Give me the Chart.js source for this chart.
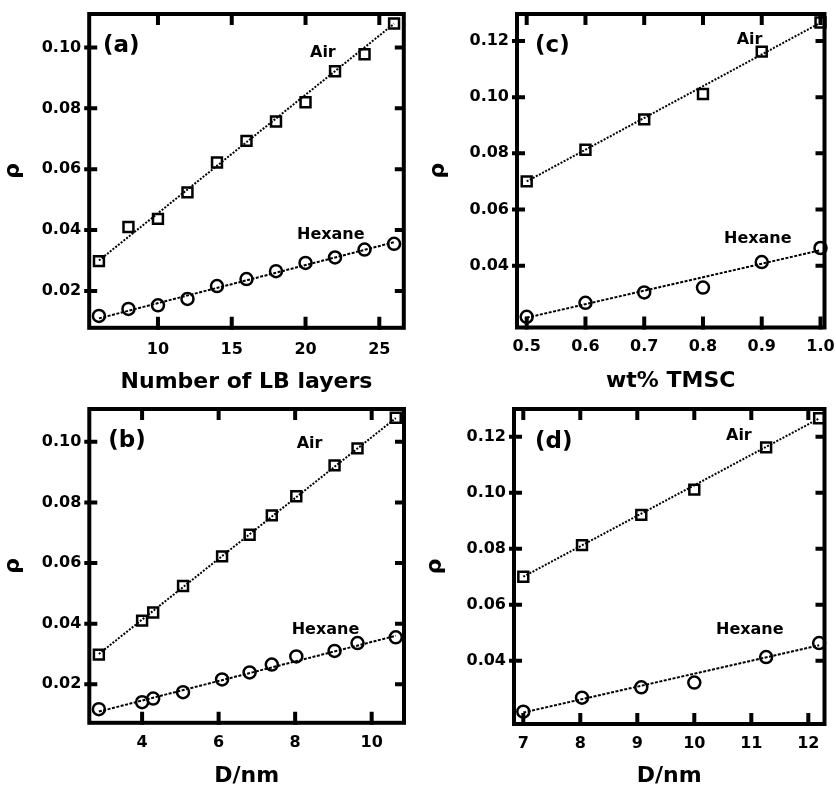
<!DOCTYPE html>
<html>
<head>
<meta charset="utf-8">
<script src="https://cdn.jsdelivr.net/npm/chart.js@4.4.1/dist/chart.umd.min.js"></script>
<style>
  html, body { margin: 0; padding: 0; background: #fff; overflow: hidden; }
  #wrap { position: relative; width: 836px; height: 785px; }
  .panel { position: absolute; }
</style>
</head>
<body>
<div id="wrap">
  <canvas id="pa" class="panel" style="left:0;top:0" width="418" height="392"></canvas>
  <canvas id="pc" class="panel" style="left:418px;top:0" width="418" height="392"></canvas>
  <canvas id="pb" class="panel" style="left:0;top:392px" width="418" height="393"></canvas>
  <canvas id="pd" class="panel" style="left:418px;top:392px" width="418" height="393"></canvas>
</div>
<script>
// ---- LB multilayer series (panels a and b) ----
const layers   = [6, 8, 10, 12, 14, 16, 18, 20, 22, 24, 26];
const diamLB   = [2.87, 4.0, 4.29, 5.07, 6.09, 6.81, 7.39, 8.03, 9.03, 9.63, 10.63];
const rhoAirLB = [0.0298, 0.0410, 0.0437, 0.0524, 0.0622, 0.0693, 0.0757, 0.0820, 0.0922, 0.0978, 0.1079];
const rhoHexLB = [0.0118, 0.0141, 0.0153, 0.0174, 0.0216, 0.0239, 0.0265, 0.0292, 0.0310, 0.0336, 0.0355];

// linear fits (end points)
const fitLayersX   = [6, 26];
const fitDiamLBX   = [2.87, 10.63];
const fitAirLBY    = [0.0300, 0.1078];
const fitHexLBY    = [0.0110, 0.0360];

// ---- TMSC series (panels c and d) ----
const wtTMSC     = [0.5, 0.6, 0.7, 0.8, 0.9, 1.0];
const diamTMSC   = [7.0, 8.03, 9.07, 10.0, 11.26, 12.19];
const rhoAirTMSC = [0.0700, 0.0813, 0.0921, 0.1011, 0.1162, 0.1266];
const rhoHexTMSC = [0.0218, 0.0268, 0.0305, 0.0322, 0.0413, 0.0463];

const fitWtX       = [0.5, 1.0];
const fitDiamTX    = [7.0, 12.19];
const fitAirTY     = [0.0700, 0.1265];
const fitHexTY     = [0.0215, 0.0455];

// ---- tick labels ----
const xTicksA  = ['10', '15', '20', '25'];
const xTicksB  = ['4', '6', '8', '10'];
const xTicksC  = ['0.5', '0.6', '0.7', '0.8', '0.9', '1.0'];
const xTicksD  = ['7', '8', '9', '10', '11', '12'];
const yTicksAB = ['0.02', '0.04', '0.06', '0.08', '0.10'];
const yTicksCD = ['0.04', '0.06', '0.08', '0.10', '0.12'];

const FONT = "'DejaVu Sans', Verdana, sans-serif";

function pts(xs, ys) { return xs.map((x, i) => ({ x: x, y: ys[i] })); }

// closed frame with inward ticks on all four sides
const framePlugin = {
  id: 'frame',
  afterDatasetsDraw(chart) {
    const { ctx, chartArea: a } = chart;
    const xs = chart.scales.x, ys = chart.scales.y;
    ctx.save();
    ctx.strokeStyle = '#000';
    ctx.lineWidth = 4;
    ctx.lineJoin = 'miter';
    ctx.strokeRect(a.left, a.top, a.right - a.left, a.bottom - a.top);
    ctx.beginPath();
    xs.ticks.forEach(t => {
      const px = xs.getPixelForValue(t.value);
      ctx.moveTo(px, a.bottom + 2); ctx.lineTo(px, a.bottom - 11);
      ctx.moveTo(px, a.top);        ctx.lineTo(px, a.top + 11);
    });
    ys.ticks.forEach(t => {
      const py = ys.getPixelForValue(t.value);
      ctx.moveTo(a.left - 5, py); ctx.lineTo(a.left + 8, py);
      ctx.moveTo(a.right, py);    ctx.lineTo(a.right - 9, py);
    });
    ctx.stroke();
    ctx.restore();
  }
};

// panel letter and series names
const notesPlugin = {
  id: 'notes',
  afterDraw(chart, args, opts) {
    const { ctx, chartArea: a } = chart;
    ctx.save();
    ctx.fillStyle = '#000';
    ctx.textBaseline = 'alphabetic';
    ctx.textAlign = 'left';
    (opts.items || []).forEach(it => {
      ctx.font = 'bold ' + it.size + 'px ' + FONT;
      ctx.fillText(it.text, a.left + it.dx, a.top + it.dy);
    });
    ctx.restore();
  }
};

function buildPanel(id, c) {
  const xVals = c.xLabels.map(Number);
  const yVals = c.yLabels.map(Number);
  return new Chart(document.getElementById(id), {
    type: 'scatter',
    data: {
      datasets: [
        { data: pts(c.airX, c.airY), pointStyle: 'rect', pointRadius: 7, borderWidth: 2.5,
          borderColor: '#000', backgroundColor: 'rgba(0,0,0,0)', clip: false },
        { data: pts(c.hexX, c.hexY), pointStyle: 'circle', pointRadius: 6, borderWidth: 2.5,
          borderColor: '#000', backgroundColor: 'rgba(0,0,0,0)', clip: false },
        { data: pts(c.fitX, c.fitAirY), showLine: true, pointRadius: 0, borderWidth: 2,
          borderColor: '#000', borderDash: [2, 1.5], clip: false },
        { data: pts(c.fitX, c.fitHexY), showLine: true, pointRadius: 0, borderWidth: 2,
          borderColor: '#000', borderDash: [3, 1.5], clip: false }
      ]
    },
    options: {
      responsive: false,
      animation: false,
      events: [],
      layout: { padding: { left: 0, top: c.padTop, right: c.padRight, bottom: 0 } },
      plugins: {
        legend: { display: false },
        tooltip: { enabled: false },
        notes: { items: c.notes }
      },
      scales: {
        x: {
          type: 'linear', position: 'bottom', min: c.xMin, max: c.xMax,
          afterBuildTicks: s => { s.ticks = xVals.map(v => ({ value: v })); },
          afterFit: s => { s.height = c.xAxisH; s.paddingLeft = 0; s.paddingRight = 0; },
          grid: { display: false, drawTicks: false },
          border: { display: false },
          ticks: {
            autoSkip: false, maxRotation: 0, padding: c.xTickPad, color: '#000',
            font: { family: FONT, size: 16, weight: 'bold' },
            callback: (v, i) => c.xLabels[i]
          },
          title: {
            display: true, text: c.xTitle, color: '#000',
            font: { family: FONT, size: 22, weight: 'bold', lineHeight: 1 },
            padding: { top: 0, bottom: c.xTitlePad }
          }
        },
        y: {
          type: 'linear', position: 'left', min: c.yMin, max: c.yMax,
          afterBuildTicks: s => { s.ticks = yVals.map(v => ({ value: v })); },
          afterFit: s => { s.width = c.yAxisW; s.paddingTop = 0; s.paddingBottom = 0; },
          grid: { display: false, drawTicks: false },
          border: { display: false },
          ticks: {
            autoSkip: false, padding: 8, color: '#000',
            font: { family: FONT, size: 16, weight: 'bold' },
            callback: (v, i) => c.yLabels[i]
          },
          title: {
            display: true, text: 'ρ', color: '#000',
            font: { family: FONT, size: 22, weight: 'bold', lineHeight: 1 },
            padding: { top: c.yTitlePad, bottom: 0 }
          }
        }
      }
    },
    plugins: [framePlugin, notesPlugin]
  });
}

// (a) rho vs number of LB layers
buildPanel('pa', {
  airX: layers, airY: rhoAirLB, hexX: layers, hexY: rhoHexLB,
  fitX: fitLayersX, fitAirY: fitAirLBY, fitHexY: fitHexLBY,
  xMin: 5.34, xMax: 26.66, yMin: 0.0079, yMax: 0.1110,
  xLabels: xTicksA, yLabels: yTicksAB, xTitle: 'Number of LB layers',
  padTop: 14, padRight: 14.2, yAxisW: 89.2, xAxisH: 64.2, xTickPad: 12, xTitlePad: -1, yTitlePad: 2,
  notes: [
    { text: '(a)', size: 23, dx: 13.8, dy: 38 },
    { text: 'Air', size: 16, dx: 220.8, dy: 43 },
    { text: 'Hexane', size: 16, dx: 207.8, dy: 225 }
  ]
});

// (b) rho vs D (LB multilayers)
buildPanel('pb', {
  airX: diamLB, airY: rhoAirLB, hexX: diamLB, hexY: rhoHexLB,
  fitX: fitDiamLBX, fitAirY: fitAirLBY, fitHexY: fitHexLBY,
  xMin: 2.62, xMax: 10.845, yMin: 0.0073, yMax: 0.1108,
  xLabels: xTicksB, yLabels: yTicksAB, xTitle: 'D/nm',
  padTop: 17, padRight: 14, yAxisW: 89.3, xAxisH: 62.2, xTickPad: 10, xTitlePad: -2, yTitlePad: 2,
  notes: [
    { text: '(b)', size: 23, dx: 19, dy: 38 },
    { text: 'Air', size: 16, dx: 207.4, dy: 39 },
    { text: 'Hexane', size: 16, dx: 202.4, dy: 225 }
  ]
});

// (c) rho vs wt% TMSC
buildPanel('pc', {
  airX: wtTMSC, airY: rhoAirTMSC, hexX: wtTMSC, hexY: rhoHexTMSC,
  fitX: fitWtX, fitAirY: fitAirTY, fitHexY: fitHexTY,
  xMin: 0.4835, xMax: 1.0068, yMin: 0.0180, yMax: 0.1296,
  xLabels: xTicksC, yLabels: yTicksCD, xTitle: 'wt% TMSC',
  padTop: 14, padRight: 11.5, yAxisW: 99, xAxisH: 64.5, xTickPad: 10, xTitlePad: 0, yTitlePad: 9,
  notes: [
    { text: '(c)', size: 23, dx: 18, dy: 38 },
    { text: 'Air', size: 16, dx: 219.7, dy: 29.5 },
    { text: 'Hexane', size: 16, dx: 207, dy: 229 }
  ]
});

// (d) rho vs D (TMSC films)
buildPanel('pd', {
  airX: diamTMSC, airY: rhoAirTMSC, hexX: diamTMSC, hexY: rhoHexTMSC,
  fitX: fitDiamTX, fitAirY: fitAirTY, fitHexY: fitHexTY,
  xMin: 6.837, xMax: 12.284, yMin: 0.0174, yMax: 0.1299,
  xLabels: xTicksD, yLabels: yTicksCD, xTitle: 'D/nm',
  padTop: 17, padRight: 11.5, yAxisW: 96, xAxisH: 61, xTickPad: 10, xTitlePad: -2, yTitlePad: 6,
  notes: [
    { text: '(d)', size: 23, dx: 21, dy: 39 },
    { text: 'Air', size: 16, dx: 212, dy: 31 },
    { text: 'Hexane', size: 16, dx: 202, dy: 225 }
  ]
});
</script>
</body>
</html>
